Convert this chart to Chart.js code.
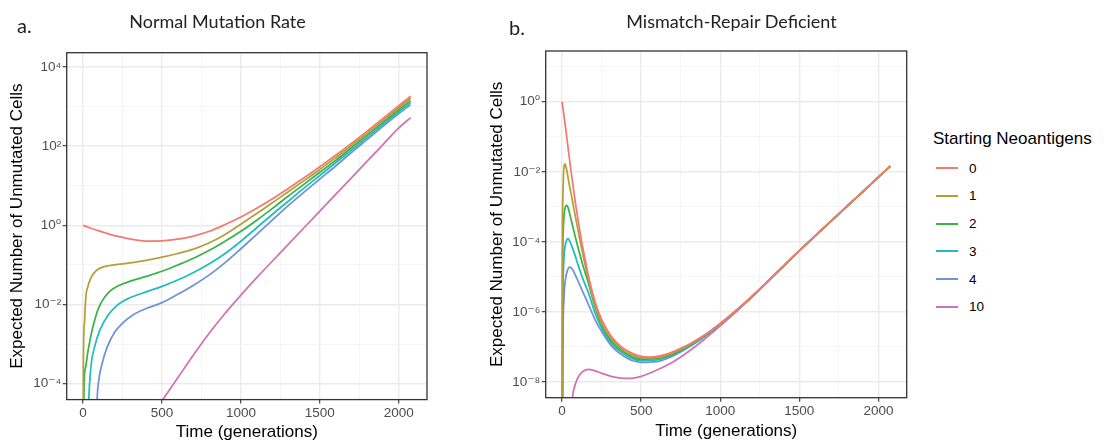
<!DOCTYPE html>
<html><head><meta charset="utf-8">
<script src="https://cdn.jsdelivr.net/npm/chart.js@4.4.1/dist/chart.umd.min.js"></script>
<style>
html,body{margin:0;padding:0;background:#fff;}
#wrap{position:relative;width:1104px;height:448px;overflow:hidden;font-family:"Liberation Sans",Arial,sans-serif;}
canvas{position:absolute;top:0;}
.ptitle{position:absolute;font-family:Lato,"Open Sans",sans-serif;font-size:18px;line-height:18px;color:#222;white-space:nowrap;text-align:center;}
.plabel{position:absolute;font-family:Lato,"Open Sans",sans-serif;font-size:20px;line-height:20px;color:#222;}
.ltitle{position:absolute;left:933px;top:129.6px;font-size:17px;line-height:17px;color:#000;white-space:nowrap;}
.lline{position:absolute;left:936px;width:22px;height:2px;}
.llab{position:absolute;left:969px;font-size:13.5px;line-height:13.5px;color:#000;}
</style></head>
<body><div id="wrap">
<canvas id="cA" width="440" height="448" style="left:0px"></canvas>
<canvas id="cB" width="440" height="448" style="left:480px"></canvas>
<div class="plabel" style="left:17px;top:14.6px">a.</div>
<div class="plabel" style="left:509px;top:17.3px">b.</div>
<div class="ptitle" style="left:0px;width:435px;top:12.3px">Normal Mutation Rate</div>
<div class="ptitle" style="left:481.5px;width:500px;top:12.3px">Mismatch-Repair Deficient</div>
<div class="ltitle">Starting Neoantigens</div>
<div id="legend"></div>
</div>
<script>
// ---- categories / legend ----
const seriesNames = ['0', '1', '2', '3', '4', '10'];
const seriesColors = ['#f47a6e', '#b59f36', '#37b34a', '#21bcc0', '#6e93d6', '#d171b7'];

// ---- axis ticks ----
const xTickValues = [0, 500, 1000, 1500, 2000];
const xTickLabels = ['0', '500', '1000', '1500', '2000'];
const xMinorValues = [250, 750, 1250, 1750];
const leftYTickExp = [-4, -2, 0, 2, 4];
const leftYTickLabels = ['10\u207B\u2074', '10\u207B\u00B2', '10\u2070', '10\u00B2', '10\u2074'];
const leftYMinorExp = [-3, -1, 1, 3];
const rightYTickExp = [-8, -6, -4, -2, 0];
const rightYTickLabels = ['10\u207B\u2078', '10\u207B\u2076', '10\u207B\u2074', '10\u207B\u00B2', '10\u2070'];
const rightYMinorExp = [-7, -5, -3, -1, 1];

// ---- panel a: Normal Mutation Rate (time in generations, log10 of expected unmutated cells) ----
const normT0 = [0,100,200,300,400,500,600,700,800,900,1000,1100,1200,1300,1400,1500,1600,1700,1800,1900,2000,2075];
const normLog0 = [0,-0.14,-0.26,-0.345,-0.395,-0.39,-0.35,-0.27,-0.15,0.02,0.21,0.43,0.67,0.93,1.20,1.48,1.77,2.07,2.38,2.70,3.02,3.26];
const normT1 = [0,2,8,15,20,30,40,55,70,90,120,160,250,350,500,600,700,800,900,1000,1100,1200,1300,1400,1500,1600,1700,1800,1900,2000,2075];
const normLog1 = [-12,-3.5,-2.5,-1.95,-1.72,-1.55,-1.42,-1.29,-1.2,-1.12,-1.06,-1.02,-0.97,-0.915,-0.80,-0.71,-0.60,-0.44,-0.23,0.03,0.30,0.57,0.85,1.13,1.41,1.71,2.02,2.33,2.65,2.97,3.21];
const normT2 = [0,5,15,30,45,60,80,100,130,170,220,300,400,500,600,700,800,900,1000,1100,1200,1300,1400,1500,1600,1700,1800,1900,2000,2075];
const normLog2 = [-12,-4.3,-3.6,-3.2,-2.88,-2.6,-2.3,-2.07,-1.85,-1.66,-1.53,-1.41,-1.29,-1.16,-1.0,-0.83,-0.63,-0.40,-0.15,0.13,0.43,0.74,1.04,1.34,1.64,1.96,2.28,2.60,2.92,3.15];
const normT3 = [30,36,45,55,72,105,160,215,290,400,500,600,700,800,900,1000,1100,1200,1300,1400,1500,1600,1700,1800,1900,2000,2075];
const normLog3 = [-6,-4.5,-3.8,-3.4,-3.08,-2.66,-2.26,-2.02,-1.84,-1.68,-1.54,-1.38,-1.19,-0.97,-0.71,-0.40,-0.06,0.28,0.61,0.94,1.26,1.58,1.90,2.22,2.55,2.87,3.10];
const normT4 = [80,88,100,120,150,200,250,320,400,500,600,700,800,900,1000,1100,1200,1300,1400,1500,1600,1700,1800,1900,2000,2075];
const normLog4 = [-6,-4.5,-3.9,-3.5,-3.1,-2.7,-2.47,-2.25,-2.1,-1.95,-1.74,-1.51,-1.25,-0.94,-0.59,-0.23,0.14,0.50,0.84,1.17,1.50,1.84,2.17,2.50,2.82,3.05];
const normT10 = [450,500,600,700,800,900,1000,1100,1200,1300,1400,1500,1600,1700,1800,1900,2000,2075];
const normLog10 = [-4.75,-4.43,-3.85,-3.27,-2.72,-2.22,-1.76,-1.32,-0.90,-0.48,-0.06,0.36,0.78,1.20,1.62,2.04,2.46,2.72];

// ---- panel b: Mismatch-Repair Deficient ----
const mmrT0 = [0,25,42,60,83,100,125,150,167,208,250,312,375,437,500,560,600,650,700,750,800,900,1000,1100,1200,1300,1400,1500,1600,1700,1800,1900,2000,2075];
const mmrLog0 = [0,-0.85,-1.47,-2.1,-2.85,-3.35,-4.03,-4.6,-4.99,-5.70,-6.22,-6.70,-7.0,-7.17,-7.27,-7.29,-7.27,-7.22,-7.14,-7.04,-6.93,-6.66,-6.33,-5.96,-5.56,-5.13,-4.69,-4.25,-3.83,-3.41,-2.99,-2.57,-2.15,-1.835];
const mmrT1 = [0,2,5,9,13,17,22,30,42,60,83,104,125,167,208,250,312,375,437,500,600,700,800,900,1000,1100,1200,1300,1400,1500,1600,1700,1800,1900,2000,2075];
const mmrLog1 = [-12,-4,-2.7,-2.05,-1.82,-1.77,-1.82,-1.97,-2.28,-2.7,-3.25,-3.74,-4.22,-5.08,-5.79,-6.32,-6.77,-7.05,-7.22,-7.31,-7.305,-7.17,-6.95,-6.67,-6.335,-5.96,-5.56,-5.13,-4.69,-4.25,-3.83,-3.41,-2.99,-2.57,-2.15,-1.835];
const mmrT2 = [0,3,7,12,19,27,36,48,62,83,104,130,167,208,250,312,375,437,500,600,700,800,900,1000,1100,1200,1300,1400,1500,1600,1700,1800,1900,2000,2075];
const mmrLog2 = [-12,-5,-3.7,-3.25,-3.03,-2.96,-3.0,-3.2,-3.46,-3.85,-4.22,-4.65,-5.18,-5.86,-6.37,-6.83,-7.1,-7.27,-7.35,-7.33,-7.2,-6.97,-6.68,-6.34,-5.965,-5.56,-5.13,-4.69,-4.25,-3.83,-3.41,-2.99,-2.57,-2.15,-1.835];
const mmrT3 = [0,4,9,15,25,37,48,62,83,104,135,167,208,250,312,375,437,500,600,700,800,900,1000,1100,1200,1300,1400,1500,1600,1700,1800,1900,2000,2075];
const mmrLog3 = [-12,-6,-4.7,-4.25,-4.0,-3.91,-3.98,-4.13,-4.4,-4.70,-5.1,-5.46,-6.03,-6.46,-6.9,-7.15,-7.32,-7.39,-7.37,-7.23,-6.99,-6.69,-6.345,-5.97,-5.565,-5.13,-4.69,-4.25,-3.83,-3.41,-2.99,-2.57,-2.15,-1.835];
const mmrT4 = [0,5,12,22,35,48,65,83,104,125,167,208,250,312,375,437,500,600,700,800,900,1000,1100,1200,1300,1400,1500,1600,1700,1800,1900,2000,2075];
const mmrLog4 = [-12,-7,-5.6,-5.05,-4.8,-4.72,-4.78,-4.94,-5.15,-5.37,-5.79,-6.22,-6.56,-6.97,-7.22,-7.38,-7.44,-7.42,-7.26,-7.01,-6.71,-6.35,-5.975,-5.57,-5.135,-4.69,-4.25,-3.83,-3.41,-2.99,-2.57,-2.15,-1.835];
const mmrT10 = [60,66,78,92,110,135,165,200,260,330,400,450,500,600,700,800,900,1000,1100,1200,1300,1400,1500,1600,1700,1800,1900,2000,2075];
const mmrLog10 = [-9,-8.44,-8.15,-7.96,-7.8,-7.69,-7.64,-7.67,-7.77,-7.86,-7.9,-7.89,-7.84,-7.66,-7.43,-7.13,-6.78,-6.40,-6.0,-5.58,-5.14,-4.70,-4.255,-3.835,-3.41,-2.99,-2.57,-2.15,-1.835];

// ---- build ----
const FONT = '"Liberation Sans", "DejaVu Sans", Arial, sans-serif';
document.getElementById('wrap').style.fontFamily = FONT;

const legendEl = document.getElementById('legend');
seriesNames.forEach((n, k) => {
  const yc = 168.3 + 27.7 * k;
  const ln = document.createElement('div');
  ln.className = 'lline'; ln.style.top = (yc - 1) + 'px'; ln.style.background = seriesColors[k];
  const lb = document.createElement('div');
  lb.className = 'llab'; lb.style.top = (yc - 6.6) + 'px'; lb.textContent = n;
  legendEl.appendChild(ln); legendEl.appendChild(lb);
});

function mkData(ts, logs) { return ts.map((t, i) => ({ x: t, y: Math.pow(10, logs[i]) })); }
function mkSets(list) {
  return list.map((p, k) => ({
    label: seriesNames[k], data: mkData(p[0], p[1]),
    borderColor: seriesColors[k], backgroundColor: seriesColors[k],
    borderWidth: 1.75, pointRadius: 0, fill: false, cubicInterpolationMode: 'monotone'
  }));
}

const framePlugin = {
  id: 'frame',
  afterDatasetsDraw(chart) {
    const { ctx, chartArea: a } = chart;
    ctx.save(); ctx.strokeStyle = '#333'; ctx.lineWidth = 1.3;
    ctx.strokeRect(a.left, a.top, a.right - a.left, a.bottom - a.top);
    ctx.restore();
  }
};

function near(a, v) { return a.some(e => Math.abs(e - v) < 1e-9); }

function makeChart(id, sets, c) {
  const yAll = c.yTickExp.concat(c.yMinorExp).sort((a, b) => a - b);
  const isYMajor = v => c.yTickExp.some(e => Math.abs(Math.log10(v) - e) < 1e-6);
  const isXMajor = v => near(xTickValues, v);
  return new Chart(document.getElementById(id), {
    type: 'line',
    data: { datasets: sets },
    options: {
      responsive: false, animation: false, events: [],
      layout: { padding: { left: 0, right: c.padRight, top: c.padTop, bottom: 0 } },
      plugins: { legend: { display: false }, tooltip: { enabled: false } },
      scales: {
        x: {
          type: 'linear', min: -103.75, max: 2178.75,
          afterBuildTicks: s => { s.ticks = xTickValues.concat(xMinorValues).sort((a, b) => a - b).map(v => ({ value: v })); },
          afterFit: s => { s.height = c.xHeight; },
          ticks: {
            autoSkip: false, maxRotation: 0, padding: 1.5, color: '#4d4d4d',
            font: { family: FONT, size: 13.5 },
            callback: v => { const i = xTickValues.indexOf(v); return i >= 0 ? xTickLabels[i] : ''; }
          },
          grid: {
            color: ctx => isXMajor(ctx.tick.value) ? '#ebebeb' : '#f3f3f3',
            lineWidth: ctx => isXMajor(ctx.tick.value) ? 1.4 : 0.8,
            tickLength: 4,
            tickColor: ctx => isXMajor(ctx.tick.value) ? '#333' : 'rgba(0,0,0,0)',
            tickWidth: 1.1
          },
          border: { display: false },
          title: { display: true, text: 'Time (generations)', color: '#000', font: { family: FONT, size: 17 }, padding: { top: 0, bottom: c.xTitlePad } }
        },
        y: {
          type: 'logarithmic', min: Math.pow(10, c.yMinExp), max: Math.pow(10, c.yMaxExp),
          afterBuildTicks: s => { s.ticks = yAll.map(e => ({ value: Math.pow(10, e) })); },
          afterFit: s => { s.width = c.yWidth; },
          ticks: {
            autoSkip: false, padding: 1.5, color: '#4d4d4d',
            font: { family: FONT, size: 13.5 },
            callback: v => { const e = Math.round(Math.log10(v)); const i = c.yTickExp.indexOf(e); return i >= 0 ? c.yTickLabels[i] : ''; }
          },
          grid: {
            color: ctx => isYMajor(ctx.tick.value) ? '#ebebeb' : '#f3f3f3',
            lineWidth: ctx => isYMajor(ctx.tick.value) ? 1.4 : 0.8,
            tickLength: 4,
            tickColor: ctx => isYMajor(ctx.tick.value) ? '#333' : 'rgba(0,0,0,0)',
            tickWidth: 1.1
          },
          border: { display: false },
          title: { display: true, text: 'Expected Number of Unmutated Cells', color: '#000', font: { family: FONT, size: 17 }, padding: { top: 7.3, bottom: 0 } }
        }
      }
    },
    plugins: [framePlugin]
  });
}

makeChart('cA', mkSets([[normT0, normLog0], [normT1, normLog1], [normT2, normLog2], [normT3, normLog3], [normT4, normLog4], [normT10, normLog10]]), {
  padRight: 13, padTop: 52.7, xHeight: 448 - 399.6, yWidth: 66.7, xTitlePad: 5,
  yMinExp: -4.4, yMaxExp: 4.36, yTickExp: leftYTickExp, yTickLabels: leftYTickLabels, yMinorExp: leftYMinorExp
});
makeChart('cB', mkSets([[mmrT0, mmrLog0], [mmrT1, mmrLog1], [mmrT2, mmrLog2], [mmrT3, mmrLog3], [mmrT4, mmrLog4], [mmrT10, mmrLog10]]), {
  padRight: 13.3, padTop: 51, xHeight: 448 - 397.7, yWidth: 65.7, xTitlePad: 6,
  yMinExp: -8.45, yMaxExp: 1.45, yTickExp: rightYTickExp, yTickLabels: rightYTickLabels, yMinorExp: rightYMinorExp
});
</script>
</body></html>
